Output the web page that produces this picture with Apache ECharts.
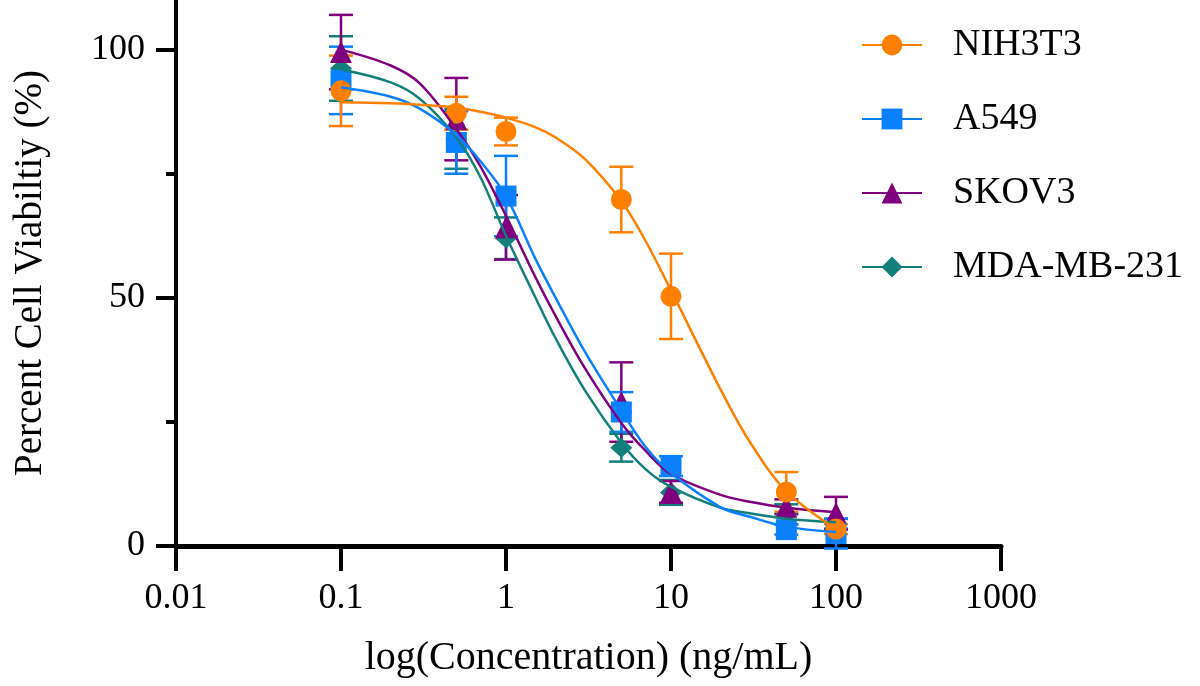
<!DOCTYPE html>
<html>
<head>
<meta charset="utf-8">
<script src="https://cdn.jsdelivr.net/npm/echarts@6/dist/echarts.min.js"></script>
<style>
  html, body { margin: 0; padding: 0; background: #fff; }
  #main { width: 1200px; height: 686px; }
</style>
</head>
<body>
<div id="main"></div>
<script>
// measured points
var concentrations = [0.1, 0.5, 1, 5, 10, 50, 100];
var nihMean = [91.7, 87.2, 83.5, 69.8, 50.3, 10.9, 3.4];
var nihErr  = [7.1, 3.3, 2.8, 6.6, 8.6, 4.0, 1.0];
var a549Mean = [93.8, 81.3, 70.5, 27.0, 16.1, 3.3, 2.5];
var a549Err  = [6.8, 6.3, 8.1, 4.0, 2.0, 1.0, 3.0];
var skovMean = [99.5, 86.0, 64.2, 29.0, 10.9, 7.9, 6.6];
var skovErr  = [7.5, 8.3, 6.5, 8.0, 2.2, 1.5, 3.3];
var mdaMean = [96.2, 82.0, 62.0, 19.8, 10.8, 6.4, 4.5];
var mdaErr  = [6.5, 6.0, 4.2, 2.8, 2.5, 2.0, 1.0];

// fitted curves
var curveX = [0.1, 0.2, 0.3, 0.5, 0.7, 1, 1.5, 2, 3, 5, 7, 10, 20, 30, 50, 100];
var nihCurve  = [89.4, 89.2, 88.9, 88.3, 87.5, 86.3, 84.4, 82.3, 78.0, 69.5, 61.5, 51.5, 31.5, 21.0, 11.0, 3.4];
var a549Curve = [92.4, 90.5, 88.1, 82.8, 77.5, 70.5, 58.0, 50.0, 39.2, 27.3, 20.0, 14.7, 7.8, 5.9, 3.9, 2.8];
var skovCurve = [100.0, 96.8, 93.2, 84.0, 76.5, 66.5, 54.3, 46.3, 35.9, 24.8, 19.2, 14.5, 10.3, 8.9, 7.7, 6.8];
var mdaCurve  = [96.0, 93.4, 90.1, 82.3, 74.3, 62.5, 50.2, 41.8, 31.4, 20.8, 15.5, 11.9, 7.7, 6.6, 5.5, 4.8];

var xTickValues = [0.01, 0.1, 1, 10, 100, 1000];
var xTickLabels = ['0.01', '0.1', '1', '10', '100', '1000'];
var yMajorTicks = [0, 50, 100];
var yMinorTicks = [25, 75];

var FONT = 'Liberation Serif';

function pairs(xs, ys) {
    return xs.map(function (x, i) { return [x, ys[i]]; });
}
function triples(xs, ys, es) {
    return xs.map(function (x, i) { return [x, ys[i], es[i]]; });
}

function errorBars(color) {
    return function (params, api) {
        var x = api.value(0), v = api.value(1), e = api.value(2);
        var top = api.coord([x, v + e]);
        var bot = api.coord([x, v - e]);
        var cap = 12;
        var style = { stroke: color, lineWidth: 2.5 };
        return {
            type: 'group',
            children: [
                { type: 'line', shape: { x1: top[0], y1: top[1], x2: bot[0], y2: bot[1] }, style: style },
                { type: 'line', shape: { x1: top[0] - cap, y1: top[1], x2: top[0] + cap, y2: top[1] }, style: style },
                { type: 'line', shape: { x1: bot[0] - cap, y1: bot[1], x2: bot[0] + cap, y2: bot[1] }, style: style }
            ]
        };
    };
}

function group(name, color, symbol, size, curve, mean, err) {
    return [
        {
            name: name, type: 'line', data: pairs(curveX, curve),
            smooth: 0.35, showSymbol: false, symbol: symbol, symbolSize: size,
            lineStyle: { color: color, width: 2.5 }, itemStyle: { color: color },
            silent: true
        },
        {
            name: name, type: 'custom', data: triples(concentrations, mean, err),
            renderItem: errorBars(color), encode: { x: 0, y: 1 }, silent: true
        },
        {
            name: name, type: 'scatter', data: pairs(concentrations, mean),
            symbol: symbol, symbolSize: size, itemStyle: { color: color, opacity: 1 },
            silent: true
        }
    ];
}

function drawChart() {
    var chart = echarts.init(document.getElementById('main'));

    var series = []
        .concat(group('MDA-MB-231', '#127f7b', 'diamond', [22, 20], mdaCurve, mdaMean, mdaErr))
        .concat(group('SKOV3', '#7f007f', 'triangle', 22, skovCurve, skovMean, skovErr))
        .concat(group('A549', '#0a80ff', 'rect', 21, a549Curve, a549Mean, a549Err))
        .concat(group('NIH3T3', '#ff8000', 'circle', 21, nihCurve, nihMean, nihErr));

    var option = {
        animation: false,
        backgroundColor: '#fff',
        textStyle: { fontFamily: FONT, color: '#000' },
        legend: {
            data: ['NIH3T3', 'A549', 'SKOV3', 'MDA-MB-231'],
            orient: 'vertical',
            left: 856,
            top: 21,
            itemWidth: 60,
            itemHeight: 26,
            itemGap: 36,
            selectedMode: false,
            textStyle: { fontFamily: FONT, fontSize: 38, lineHeight: 38, color: '#000', padding: [0, 0, 0, 26] }
        },
        grid: { left: 176, right: 199, top: 0, bottom: 140, containLabel: false },
        xAxis: {
            type: 'log',
            logBase: 10,
            min: 0.01,
            max: 1000,
            name: 'log(Concentration) (ng/mL)',
            nameLocation: 'middle',
            nameGap: 92,
            nameTextStyle: { fontFamily: FONT, fontSize: 40, color: '#000' },
            axisLine: { lineStyle: { color: '#000', width: 5 } },
            axisTick: { customValues: xTickValues, length: 25, lineStyle: { color: '#000', width: 4 } },
            axisLabel: {
                customValues: xTickValues,
                margin: 35,
                fontFamily: FONT, fontSize: 36, color: '#000',
                formatter: function (v) {
                    for (var i = 0; i < xTickValues.length; i++) {
                        if (Math.abs(Math.log10(v) - Math.log10(xTickValues[i])) < 1e-6) return xTickLabels[i];
                    }
                    return '';
                }
            },
            splitLine: { show: false }
        },
        yAxis: [
            {
                type: 'value',
                min: 0,
                max: 110,
                name: 'Percent Cell Viabiltiy (%)',
                nameLocation: 'middle',
                nameGap: 126,
                nameTextStyle: { fontFamily: FONT, fontSize: 39, color: '#000' },
                axisLine: { show: true, lineStyle: { color: '#000', width: 4 } },
                axisTick: { show: true, customValues: yMajorTicks, length: 20, lineStyle: { color: '#000', width: 4 } },
                axisLabel: { customValues: yMajorTicks, margin: 31, fontFamily: FONT, fontSize: 36, color: '#000' },
                splitLine: { show: false }
            },
            {
                type: 'value',
                min: 0,
                max: 110,
                position: 'left',
                axisLine: { show: false },
                axisTick: { show: true, customValues: yMinorTicks, length: 10, lineStyle: { color: '#000', width: 4 } },
                axisLabel: { show: false },
                splitLine: { show: false }
            }
        ],
        series: series
    };

    option && chart.setOption(option);
}

document.addEventListener('DOMContentLoaded', function () {
    drawChart();
});
</script>
</body>
</html>
